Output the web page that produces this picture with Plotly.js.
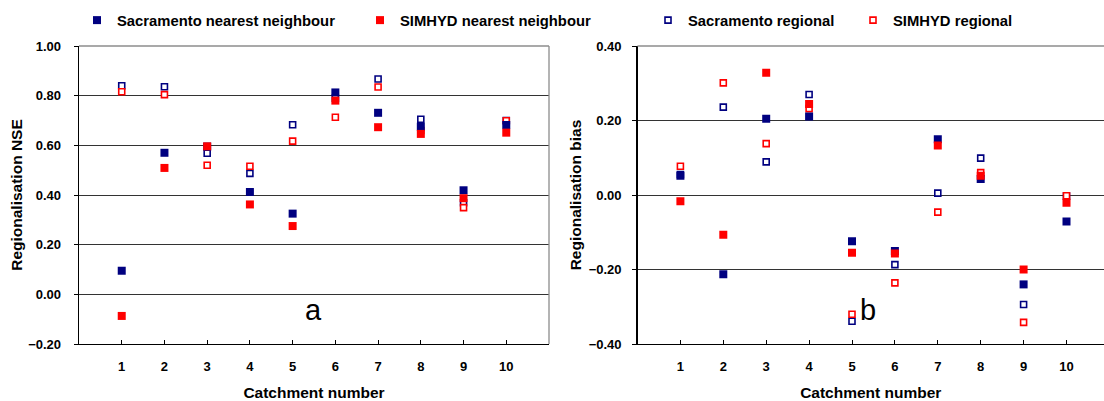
<!DOCTYPE html>
<html>
<head>
<meta charset="utf-8">
<script src="https://cdn.plot.ly/plotly-3.0.1.min.js"></script>
<style>html,body{margin:0;padding:0;background:#fff;}#chart{width:1104px;height:401px;}</style>
</head>
<body>
<div id="chart"></div>
<script>
// ---- data ----
const catchments = [1, 2, 3, 4, 5, 6, 7, 8, 9, 10];
const tickLabels = ['1', '2', '3', '4', '5', '6', '7', '8', '9', '10'];

// Panel a: Regionalisation NSE
const nseSacNN  = [0.095, 0.570, 0.595, 0.412, 0.325, 0.813, 0.731, 0.675, 0.419, 0.682];
const nseSimNN  = [-0.087, 0.509, 0.596, 0.362, 0.275, 0.780, 0.673, 0.646, 0.387, 0.651];
const nseSacReg = [0.840, 0.836, 0.568, 0.487, 0.683, 0.790, 0.867, 0.705, 0.369, 0.700];
const nseSimReg = [0.816, 0.804, 0.520, 0.516, 0.617, 0.713, 0.835, 0.660, 0.349, 0.699];

// Panel b: Regionalisation bias
const biasSacNN  = [0.052, -0.213, 0.205, 0.211, -0.124, -0.150, 0.150, 0.043, -0.240, -0.071];
const biasSimNN  = [-0.017, -0.107, 0.328, 0.244, -0.155, -0.157, 0.133, 0.052, -0.200, -0.021];
const biasSacReg = [0.055, 0.236, 0.089, 0.270, -0.339, -0.187, 0.005, 0.099, -0.294, -0.003];
const biasSimReg = [0.077, 0.301, 0.138, 0.232, -0.320, -0.236, -0.046, 0.060, -0.342, -0.002];

const seriesNames = ['Sacramento nearest neighbour', 'SIMHYD nearest neighbour', 'Sacramento regional', 'SIMHYD regional'];
const panelLetters = ['a', 'b'];

// ---- styling ----
const NAVY = '#000080', RED = '#ff0000';
const FONT = 'Liberation Sans, Arial, sans-serif';
const filled = c => ({symbol: 'square', size: 8, color: c, line: {width: 0}});
const open = c => ({symbol: 'square', size: 6, color: '#ffffff', line: {width: 1.6, color: c}});

function tr(y, xa, ya, name, marker, legend, show) {
  return {x: catchments, y: y, xaxis: xa, yaxis: ya, type: 'scatter', mode: 'markers',
          name: name, marker: marker, legend: legend, showlegend: show, hoverinfo: 'skip'};
}

// draw order: open squares first, filled on top
const traces = [
  tr(nseSacReg, 'x', 'y', seriesNames[2], open(NAVY), 'legend3', true),
  tr(nseSimReg, 'x', 'y', seriesNames[3], open(RED), 'legend4', true),
  tr(nseSacNN, 'x', 'y', seriesNames[0], filled(NAVY), 'legend', true),
  tr(nseSimNN, 'x', 'y', seriesNames[1], filled(RED), 'legend2', true),
  tr(biasSacReg, 'x2', 'y2', seriesNames[2], open(NAVY), 'legend3', false),
  tr(biasSimReg, 'x2', 'y2', seriesNames[3], open(RED), 'legend4', false),
  tr(biasSacNN, 'x2', 'y2', seriesNames[0], filled(NAVY), 'legend', false),
  tr(biasSimNN, 'x2', 'y2', seriesNames[1], filled(RED), 'legend2', false)
];

const W = 1104, H = 401;
const yDom = [1 - 344 / H, 1 - 46 / H];
const tickFont = {family: FONT, size: 13, color: '#000', weight: 'bold'};
const titleFont = {family: FONT, size: 15.5, color: '#000', weight: 'bold'};
const legFont = {family: FONT, size: 14.8, color: '#000', weight: 'bold'};

function xax(domain, rangeMax) {
  return {domain: domain, range: [0, rangeMax], tickvals: catchments, ticktext: tickLabels,
    ticks: 'inside', ticklen: 4, tickwidth: 1, tickcolor: '#000',
    showline: true, linecolor: '#000', linewidth: 1.3, showgrid: false, zeroline: false,
    tickfont: tickFont, ticklabelstandoff: 10,
    title: {text: 'Catchment number', font: titleFont, standoff: 14}, fixedrange: true};
}
function yax(domain, range, anchor, standoff) {
  return {domain: domain, range: range, dtick: 0.2, tick0: 0, tickformat: '.2f', anchor: anchor,
    ticks: 'outside', ticklen: 4, tickwidth: 1, tickcolor: '#000',
    showline: true, linecolor: '#000', linewidth: 1.3,
    showgrid: true, gridcolor: '#333333', gridwidth: 1, zeroline: false,
    tickfont: tickFont, ticklabelstandoff: standoff, fixedrange: true};
}

function legendAt(markerX) {
  return {x: (markerX - 18) / W, xanchor: 'left', y: 1 - 20.5 / H, yanchor: 'middle',
    orientation: 'h', font: legFont, bgcolor: 'rgba(0,0,0,0)', borderwidth: 0, itemclick: false, itemdoubleclick: false};
}

const layout = {
  width: W, height: H,
  margin: {l: 0, r: 0, t: 0, b: 0},
  paper_bgcolor: '#ffffff', plot_bgcolor: '#ffffff',
  font: {family: FONT, color: '#000'},
  xaxis: xax([79 / W, 549 / W], 11),
  yaxis: Object.assign(yax(yDom, [-0.2, 1.0], 'x', 10),
    {title: {text: 'Regionalisation NSE', font: titleFont, standoff: 1}}),
  xaxis2: Object.assign(xax([637.5 / W, 1], (W - 637.5) / 42.9), {anchor: 'y2'}),
  yaxis2: Object.assign(yax(yDom, [-0.4, 0.4], 'x2', 8),
    {title: {text: 'Regionalisation bias', font: titleFont, standoff: 3}}),
  legend: legendAt(95),
  legend2: legendAt(378),
  legend3: legendAt(666),
  legend4: legendAt(871),
  shapes: [
    {type: 'line', xref: 'x domain', yref: 'y domain', x0: 0, x1: 1, y0: 1, y1: 1, line: {color: '#8c8c8c', width: 1.3}},
    {type: 'line', xref: 'x domain', yref: 'y domain', x0: 1, x1: 1, y0: 0, y1: 1, line: {color: '#8c8c8c', width: 1.3}},
    {type: 'line', xref: 'x2 domain', yref: 'y2 domain', x0: 0, x1: 1, y0: 1, y1: 1, line: {color: '#8c8c8c', width: 1.3}}
  ],
  annotations: [
    {text: panelLetters[0], xref: 'x', yref: 'y', x: 5.48, y: -0.063, showarrow: false,
     xanchor: 'center', yanchor: 'middle', font: {family: FONT, size: 29, color: '#000'}},
    {text: panelLetters[1], xref: 'x2', yref: 'y2', x: 5.37, y: -0.309, showarrow: false,
     xanchor: 'center', yanchor: 'middle', font: {family: FONT, size: 29, color: '#000'}}
  ]
};

Plotly.newPlot('chart', traces, layout, {displayModeBar: false, staticPlot: true});
</script>
</body>
</html>
